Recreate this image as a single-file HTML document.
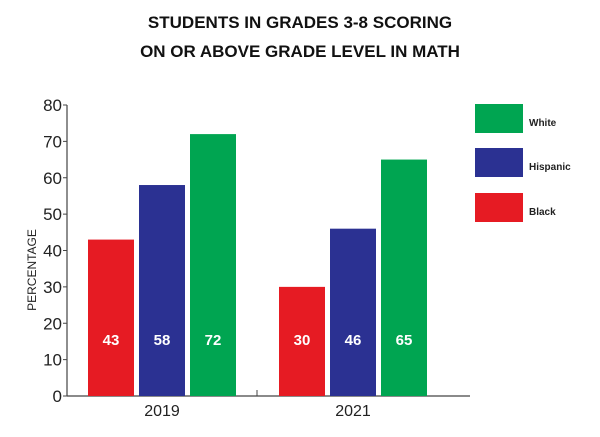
<!DOCTYPE html>
<html><head><style>
body{margin:0;background:#fff;}
svg{font-family:"Liberation Sans",sans-serif;}
</style></head><body>
<svg width="600" height="432" viewBox="0 0 600 432">
<text x="300" y="28" text-anchor="middle" font-size="17" font-weight="bold" fill="#111">STUDENTS IN GRADES 3-8 SCORING</text>
<text x="300" y="57" text-anchor="middle" font-size="17" font-weight="bold" fill="#111">ON OR ABOVE GRADE LEVEL IN MATH</text>
<text transform="translate(36,270) rotate(-90)" text-anchor="middle" font-size="12" fill="#222">PERCENTAGE</text>
<g id="plot"></g>
<g id="legend"></g>
</svg>
<script>
const years=["2019","2021"];
const series=["Black","Hispanic","White"];
const black=[43,30];
const hispanic=[58,46];
const white=[72,65];
const yTicks=[0,10,20,30,40,50,60,70,80];
const colors=["#e61b23","#2b3192","#00a551"];
const NS="http://www.w3.org/2000/svg";
const plot=document.getElementById('plot'),legend=document.getElementById('legend');
const y0=396,y1=105,x0=67,xEnd=470;
function y(v){return y0-(v-0)/(80-0)*(y0-y1);}
function groupX(i){return 88+i*191;}
function mk(tag,attrs,parent){const e=document.createElementNS(NS,tag);for(const k in attrs)e.setAttribute(k,attrs[k]);parent.appendChild(e);return e;}
let ax=mk('line',{x1:x0,y1:y1,x2:x0,y2:y0,stroke:'#444','stroke-width':1.2},plot);


let bx=mk('line',{x1:x0,y1:y0,x2:xEnd,y2:y0,stroke:'#444','stroke-width':1.2},plot);


let mt=mk('line',{x1:257,y1:y0-6,x2:257,y2:y0,stroke:'#444'},plot);


yTicks.forEach(t=>{
 const l=mk('line',{x1:x0-4,y1:y(t),x2:x0,y2:y(t),stroke:'#444'},plot);
 
 
 const tx=mk('text',{x:x0-5,y:y(t)+6,'text-anchor':'end','font-size':17,fill:'#222'},plot);
 tx.textContent=t;
 
 
});
const vals=[black,hispanic,white];
years.forEach((yr,i)=>{
 vals.forEach((arr,s)=>{
  const x=groupX(i)+s*51,v=arr[i];
  const r=mk('rect',{x:x,y:y(v),width:46,height:y0-y(v),fill:colors[s]},plot);
  
  
  const t=mk('text',{x:x+23,y:345,'text-anchor':'middle','font-size':15,'font-weight':'bold',fill:'#fff'},plot);
  t.textContent=v;
  
  
 });
 const t=mk('text',{x:groupX(i)+74,y:416,'text-anchor':'middle','font-size':16,fill:'#222'},plot);
 t.textContent=yr;
 
 
});
const legOrder=[2,1,0],legY=[104,148,193];
legOrder.forEach((s,k)=>{
 const r=mk('rect',{x:475,y:legY[k],width:48,height:29,fill:colors[s]},legend);
 
 
 const t=mk('text',{x:529,y:legY[k]+22,'font-size':10,'font-weight':'bold',fill:'#222'},legend);
 t.textContent=series[s];
 
 
});
</script>
</body></html>
